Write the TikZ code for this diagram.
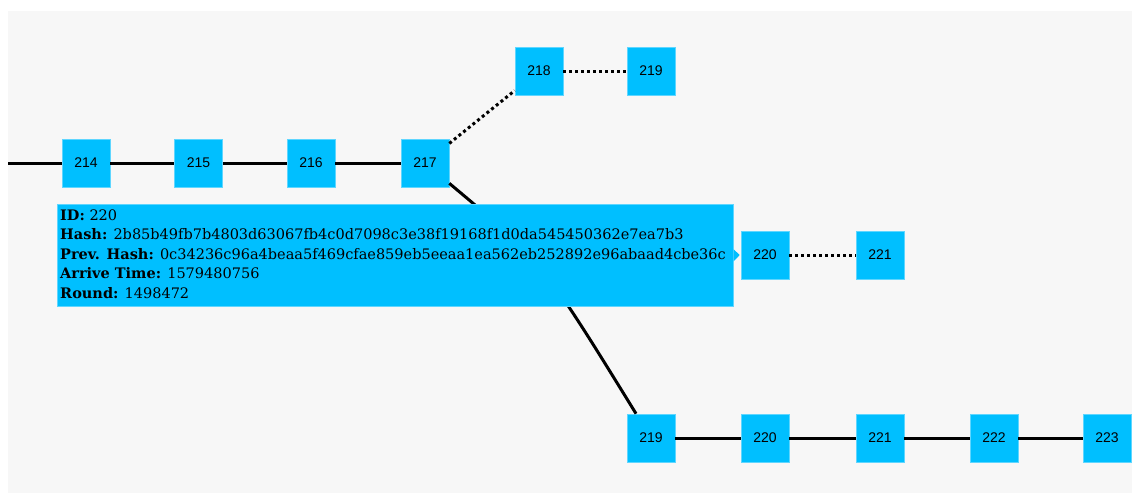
\documentclass[tikz,border=0pt]{standalone}
\usepackage{fontspec}
\usetikzlibrary{calc}
\newfontfamily\blkfont{Liberation Sans}
\newfontfamily\tipfont{DejaVu Serif}
\definecolor{blk}{HTML}{00BFFF}
\definecolor{blkedge}{HTML}{5FD6FF}
\definecolor{bg}{HTML}{F7F7F7}
\begin{document}
\begin{tikzpicture}[x=1pt,y=-1pt,
  blkbox/.style={rectangle,fill=blk,draw=blkedge,line width=0.6pt,minimum size=48pt,inner sep=0pt,font=\blkfont\fontsize{14}{16}\selectfont},
  chain/.style={line width=3pt,black},
  fork/.style={line width=3pt,black,dash pattern=on 3pt off 3pt},
  tipbox/.style={rectangle,fill=blk,draw=blkedge,line width=0.6pt,inner sep=0pt}]
\fill[white] (0,0) rectangle (1132,493);
\fill[bg] (8,11) rectangle (1132,493);
\useasboundingbox (0,0) rectangle (1132,493);
% blocks
\node[blkbox] (b214) at (86,163) {214};
\node[blkbox] (b215) at (198.5,163) {215};
\node[blkbox] (b216) at (311,163) {216};
\node[blkbox] (b217) at (425,163) {217};
\node[blkbox] (b218) at (539,71) {218};
\node[blkbox] (t219) at (651,71) {219};
\node[blkbox] (m220) at (765,255) {220};
\node[blkbox] (m221) at (880,255) {221};
\node[blkbox] (l219) at (651,438) {219};
\node[blkbox] (l220) at (765,438) {220};
\node[blkbox] (l221) at (880,438) {221};
\node[blkbox] (l222) at (994,438) {222};
\node[blkbox] (l223) at (1107,438) {223};
\coordinate (start) at (8,163);
% connectors
\draw[chain] (start) -- (b214);
\draw[chain] (b214) -- (b215);
\draw[chain] (b215) -- (b216);
\draw[chain] (b216) -- (b217);
\draw[fork] (b217) -- (b218);
\draw[fork] (b218) -- (t219);
\draw[chain] (b217) .. controls (542,261) .. (l219);
\draw[fork] (m220) -- (m221);
\draw[chain] (l219) -- (l220);
\draw[chain] (l220) -- (l221);
\draw[chain] (l221) -- (l222);
\draw[chain] (l222) -- (l223);
% tooltip
\node[tipbox,minimum width=676pt,minimum height=102pt,anchor=north west] (tip) at (57,204) {};
\fill[blk] ([yshift=6pt]tip.east) -- ([yshift=-6pt]tip.east) -- ([xshift=-1pt]m220.west) -- cycle;
\node[anchor=north west,align=left,inner sep=0pt,font=\tipfont\fontsize{14.5}{19.5}\selectfont] (tiptext) at (60,209.5)
{\textbf{ID:} 220\\
\textbf{Hash:} 2b85b49fb7b4803d63067fb4c0d7098c3e38f19168f1d0da545450362e7ea7b3\\
\textbf{Prev. Hash:} 0c34236c96a4beaa5f469cfae859eb5eeaa1ea562eb252892e96abaad4cbe36c\\
\textbf{Arrive Time:} 1579480756\\
\textbf{Round:} 1498472};
\end{tikzpicture}
\end{document}
